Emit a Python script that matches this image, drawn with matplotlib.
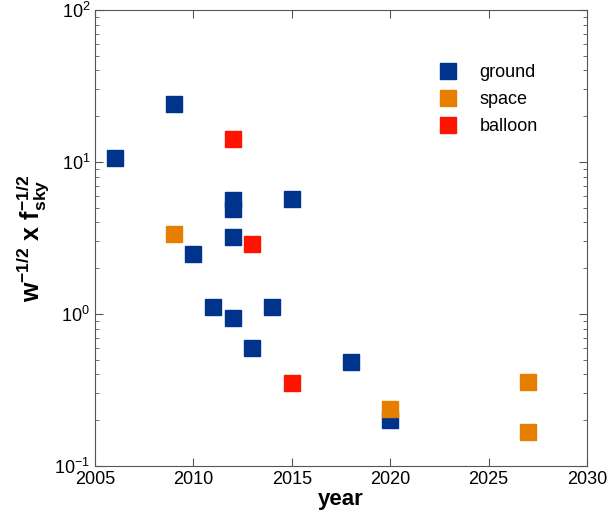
import matplotlib
matplotlib.use("Agg")
import matplotlib.pyplot as plt
from matplotlib.ticker import LogLocator, NullFormatter

plt.rcParams['font.family'] = ['Liberation Sans', 'DejaVu Sans']
plt.rcParams['mathtext.fontset'] = 'custom'
plt.rcParams['mathtext.rm'] = 'Liberation Sans'
plt.rcParams['mathtext.it'] = 'Liberation Sans'
plt.rcParams['mathtext.bf'] = 'Liberation Sans:bold'

# experiments by platform: year and w^-1/2 * fsky^-1/2
ground_year = [2006, 2009, 2012, 2012, 2015, 2012, 2010, 2011, 2014, 2012, 2013, 2018, 2020]
ground_val = [10.6, 24.0, 5.66, 4.87, 5.7, 3.2, 2.48, 1.11, 1.11, 0.94, 0.60, 0.48, 0.20]

space_year = [2009, 2020, 2027, 2027]
space_val = [3.35, 0.237, 0.357, 0.167]

balloon_year = [2012, 2013, 2015]
balloon_val = [14.2, 2.88, 0.35]

colors = {"ground": "#00338C", "space": "#E67E00", "balloon": "#FF1400"}

W, H = 610, 521
fig = plt.figure(figsize=(W / 100, H / 100), dpi=100)
ax = fig.add_axes([95 / W, (H - 466) / H, (587 - 95) / W, (466 - 10) / H])

ms = 11
ax.plot(ground_year, ground_val, 's', ms=ms, color=colors["ground"], mec=colors["ground"], label="ground")
ax.plot(space_year, space_val, 's', ms=ms, color=colors["space"], mec=colors["space"], label="space")
ax.plot(balloon_year, balloon_val, 's', ms=ms, color=colors["balloon"], mec=colors["balloon"], label="balloon")

ax.set_yscale('log')
ax.set_xlim(2005, 2030)
ax.set_ylim(0.1, 100)
ax.set_xticks([2005, 2010, 2015, 2020, 2025, 2030])
ax.yaxis.set_minor_locator(LogLocator(base=10, subs=range(2, 10)))
ax.yaxis.set_minor_formatter(NullFormatter())

ax.tick_params(which='both', direction='in', top=True, right=True, labelsize=13, color='#555555')
ax.tick_params(which='major', length=6)
ax.tick_params(which='minor', length=3)
for s in ax.spines.values():
    s.set_color('#555555')

ax.set_xlabel('year', fontsize=16, fontweight='bold', labelpad=1)
ax.set_ylabel(r'$\mathbf{w^{-1/2}\ x\ f_{sky}^{-1/2}}$', fontsize=18, labelpad=2)

ax.legend(loc='upper left', bbox_to_anchor=(430 / W, 1 - 64 / H), bbox_transform=fig.transFigure,
          frameon=False, fontsize=13, handlelength=2.0, handletextpad=0.75,
          labelspacing=0.55, borderpad=0, borderaxespad=0)

fig.savefig('out.png', dpi=100)
